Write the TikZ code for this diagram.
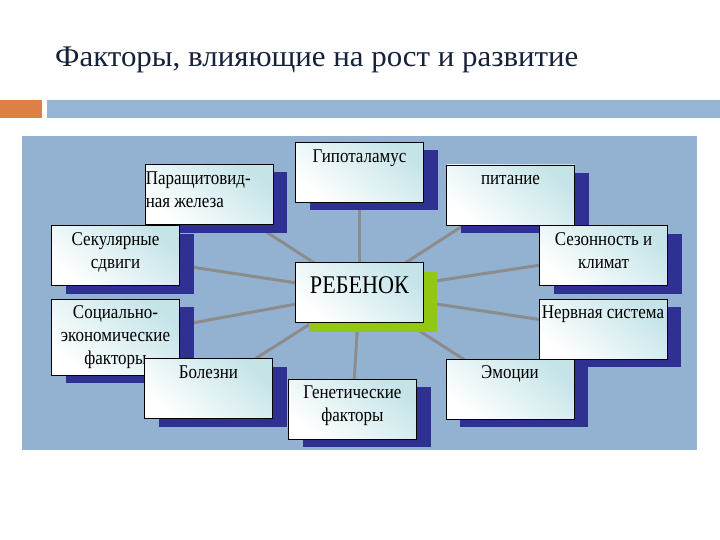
\documentclass[tikz,border=0pt]{standalone}
\usepackage{fontspec}
\setmainfont{Liberation Serif}
\newfontfamily\boxfont[FakeStretch=0.87]{Liberation Serif}
\newfontfamily\titlefont[FakeStretch=1.03]{Liberation Serif}
\usetikzlibrary{shadows}
\definecolor{panel}{RGB}{147,178,209}
\definecolor{shblue}{RGB}{46,49,146}
\definecolor{shgreen}{RGB}{146,200,20}
\definecolor{boxcyan}{RGB}{196,228,232}
\definecolor{connc}{RGB}{140,140,140}
\definecolor{titlec}{RGB}{22,33,58}
\definecolor{barorange}{RGB}{221,128,71}
\definecolor{barblue}{RGB}{148,182,210}
\pgfdeclarelayer{background}
\pgfsetlayers{background,main}
\tikzset{
  boxbase/.style={draw=black, line width=0.9pt, minimum width=128pt, minimum height=60pt,
    inner sep=0pt, top color=boxcyan, bottom color=white, shading angle=-40},
  box/.style={boxbase, drop shadow={shadow xshift=14pt, shadow yshift=-8pt, fill=shblue, opacity=1}},
  centerbox/.style={boxbase, drop shadow={shadow xshift=13pt, shadow yshift=-9pt, fill=shgreen, opacity=1}},
  txt/.style={font=\boxfont\fontsize{19.5}{23}\selectfont, anchor=north, inner sep=0pt,
    align=center, yshift=-3.9pt, text=black},
  connector/.style={draw=connc, line width=3pt}
}
\begin{document}
\begin{tikzpicture}[x=1pt,y=-1pt]
\useasboundingbox (0,0) rectangle (720,540);
% title and bars
\node[anchor=base west, font=\titlefont\fontsize{30}{34}\selectfont, text=titlec, inner sep=0pt] (title) at (55,67) {Факторы, влияющие на рост и развитие};
\fill[barorange] (0,100) rectangle (42,118);
\fill[barblue] (47,100) rectangle (720,118);

% boxes
\node[box] (hyp) at (359.5,172.5) {};
\node[txt] (hypt) at (hyp.north) {\strut Гипоталамус};

\node[box] (par) at (209,194.5) {};
\node[txt, anchor=north west, align=left, xshift=1pt] (part) at (par.north west) {\strut Паращитовид-\\ная железа};

\node[box] (sek) at (115.5,255.5) {};
\node[txt] (sekt) at (sek.north) {\strut Секулярные\\сдвиги};

\node[box] (pit) at (510.5,195) {};
\node[txt] (pitt) at (pit.north) {\strut питание};

\node[box] (sez) at (603.5,255.5) {};
\node[txt] (sezt) at (sez.north) {\strut Сезонность и\\климат};

\node[centerbox] (reb) at (359.5,292.5) {};
\node[txt, font=\boxfont\fontsize{25.5}{30}\selectfont, yshift=-6pt] (rebt) at (reb.north) {\strut РЕБЕНОК};

\node[box, minimum height=76pt] (soc) at (115.5,337) {};
\node[txt] (soct) at (soc.north) {\strut Социально-\\экономические\\факторы};

\node[box] (bol) at (208.5,388.5) {};
\node[txt] (bolt) at (bol.north) {\strut Болезни};

\node[box] (ner) at (603,329) {};
\node[txt] (nert) at (ner.north) {\strut Нервная система};

\node[box] (emo) at (510,389) {};
\node[txt] (emot) at (emo.north) {\strut Эмоции};

\node[box] (gen) at (352.5,409) {};
\node[txt] (gent) at (gen.north) {\strut Генетические\\факторы};

\begin{pgfonlayer}{background}
  \fill[white] (0,0) rectangle (720,540);
  \fill[panel] (22,136) rectangle (697,450);
  \foreach \n in {hyp,par,pit,sek,sez,soc,bol,ner,emo,gen}
    \draw[connector] (reb.center) -- (\n.center);
\end{pgfonlayer}
\end{tikzpicture}
\end{document}
